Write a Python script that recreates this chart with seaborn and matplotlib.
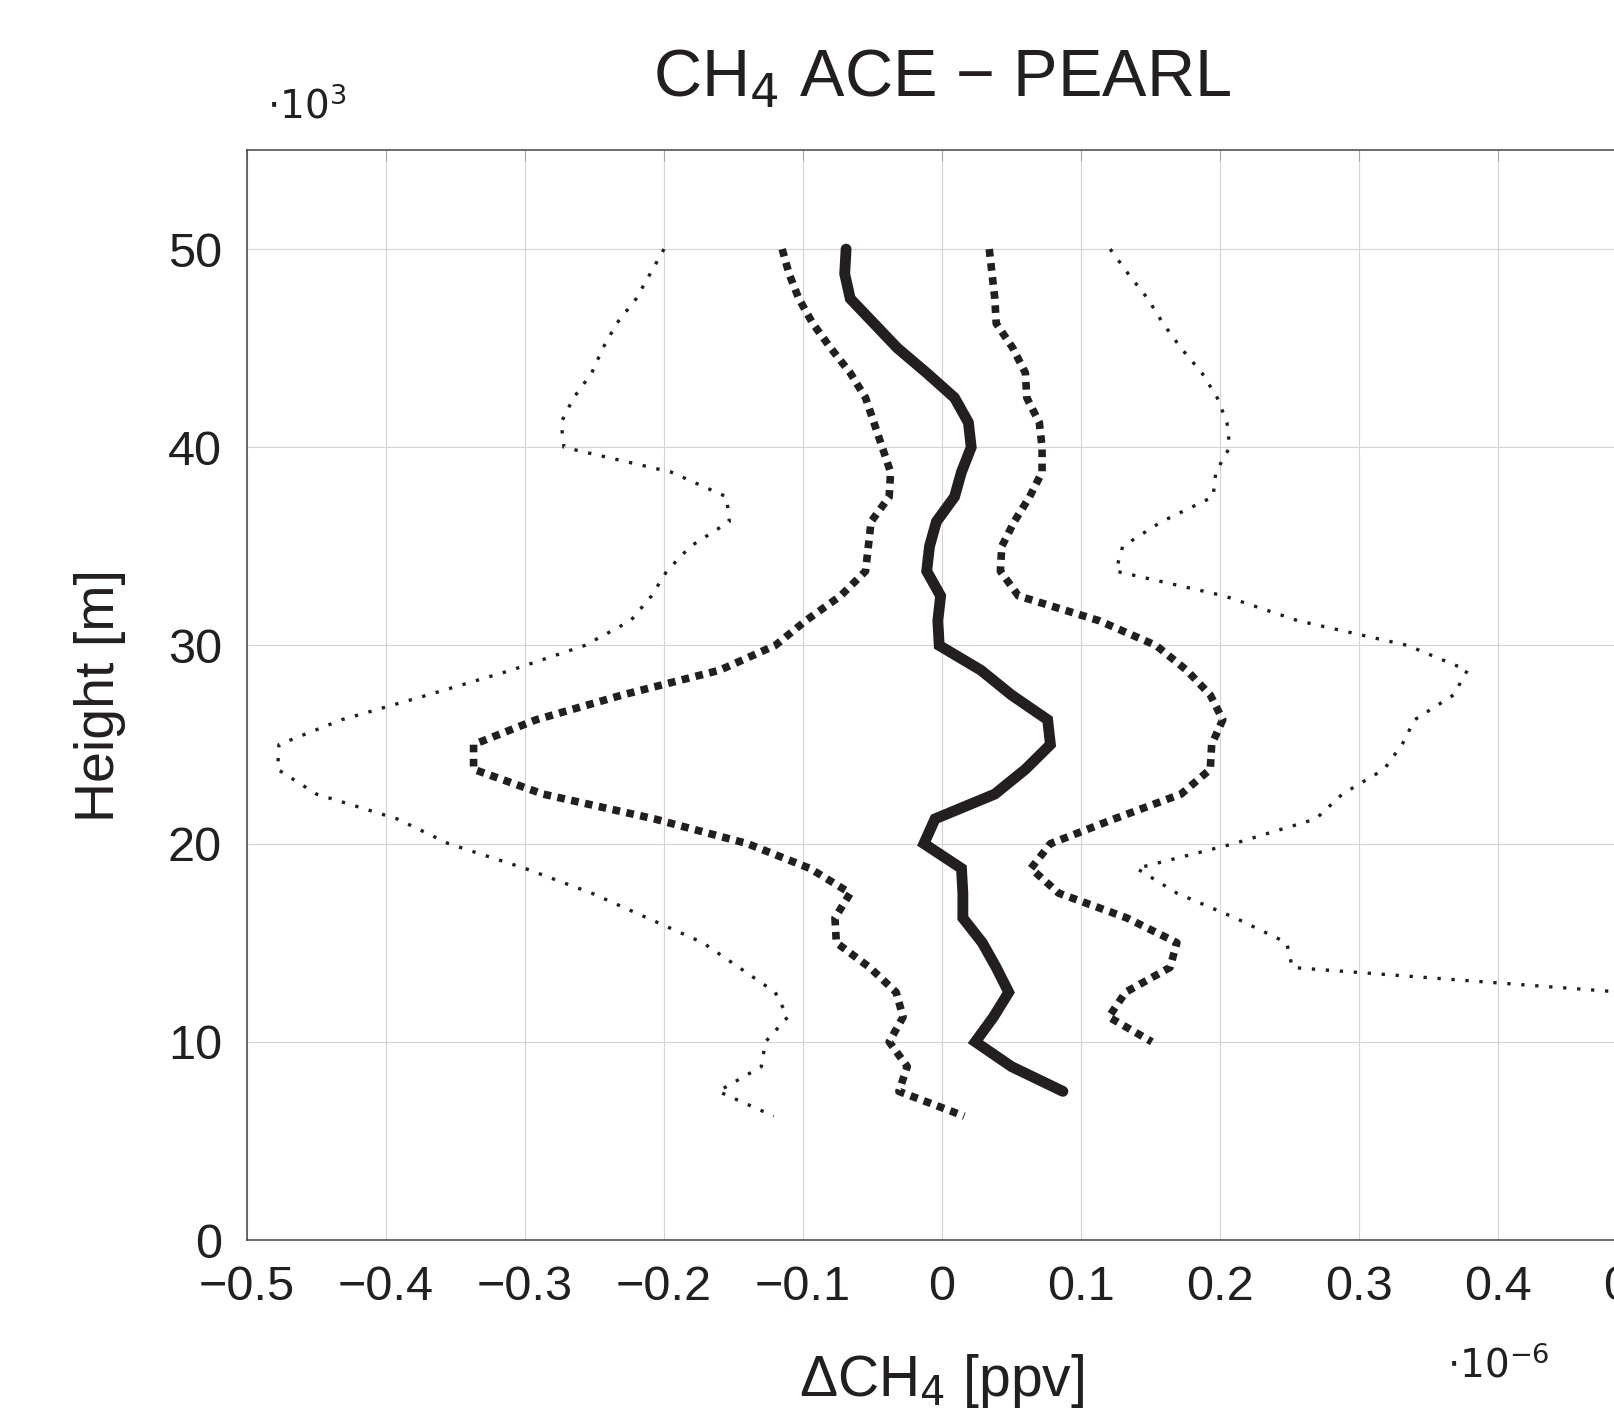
import matplotlib
matplotlib.use("Agg")
import matplotlib.pyplot as plt
import numpy as np
import seaborn as sns

# heights in km (axis shown as x10^3 m), differences in 1e-6 ppv
h_mean = [50, 48.75, 47.5, 46.25, 45, 43.75, 42.5, 41.25, 40, 38.75, 37.5, 36.25,
          35, 33.75, 32.5, 31.25, 30, 28.75, 27.5, 26.25, 25, 23.75, 22.5, 21.25,
          20, 18.75, 17.5, 16.25, 15, 13.75, 12.5, 11.25, 10, 8.75, 7.5]
d_mean = [-0.069, -0.070, -0.066, -0.049, -0.032, -0.011, 0.009, 0.019, 0.021, 0.014, 0.009, -0.004,
          -0.009, -0.011, -0.001, -0.003, -0.002, 0.028, 0.050, 0.076, 0.078, 0.060, 0.038, -0.005,
          -0.013, 0.014, 0.015, 0.015, 0.029, 0.039, 0.048, 0.037, 0.024, 0.050, 0.087]

h_lo1 = h_mean + [6.25]
d_lo1 = [-0.115, -0.110, -0.103, -0.093, -0.080, -0.066, -0.055, -0.049, -0.043, -0.037, -0.038, -0.051,
         -0.053, -0.055, -0.073, -0.098, -0.120, -0.160, -0.230, -0.292, -0.337, -0.337, -0.287, -0.207,
         -0.140, -0.095, -0.066, -0.077, -0.076, -0.052, -0.033, -0.028, -0.038, -0.025, -0.031, 0.016]

h_lo2 = h_mean + [6.25]
d_lo2 = [-0.200, -0.210, -0.220, -0.234, -0.244, -0.252, -0.265, -0.274, -0.272, -0.195, -0.155, -0.153,
         -0.181, -0.198, -0.209, -0.224, -0.257, -0.310, -0.370, -0.432, -0.477, -0.478, -0.450, -0.392,
         -0.355, -0.300, -0.252, -0.212, -0.172, -0.146, -0.120, -0.111, -0.127, -0.130, -0.161, -0.121]

h_hi1 = h_mean[:33]
d_hi1 = [0.034, 0.036, 0.038, 0.039, 0.051, 0.060, 0.061, 0.070, 0.072, 0.072, 0.063, 0.052,
         0.043, 0.042, 0.055, 0.113, 0.154, 0.176, 0.193, 0.202, 0.194, 0.193, 0.172, 0.124,
         0.078, 0.064, 0.084, 0.133, 0.169, 0.164, 0.132, 0.120, 0.151]

h_hi2 = h_mean[:31]
d_hi2 = [0.121, 0.134, 0.148, 0.159, 0.172, 0.187, 0.198, 0.205, 0.207, 0.197, 0.195, 0.158,
         0.130, 0.125, 0.203, 0.256, 0.335, 0.378, 0.368, 0.340, 0.331, 0.318, 0.288, 0.269,
         0.210, 0.140, 0.169, 0.211, 0.248, 0.252, 0.490]

x_ticks = [-0.5, -0.4, -0.3, -0.2, -0.1, 0, 0.1, 0.2, 0.3, 0.4, 0.5]
y_ticks = [0, 10, 20, 30, 40, 50]

sns.set_style("whitegrid")
plt.rcParams['font.family'] = ['Liberation Sans Narrow', 'Liberation Sans', 'DejaVu Sans']
plt.rcParams['mathtext.fontset'] = 'custom'
plt.rcParams['mathtext.rm'] = 'Liberation Sans Narrow'
plt.rcParams['mathtext.it'] = 'Liberation Sans Narrow'
plt.rcParams['axes.unicode_minus'] = True

ink = "#231f20"
fig = plt.figure(figsize=(16.15, 14.11), dpi=100)
ax = fig.add_axes([247 / 1615, 1 - 1240 / 1411, 1390 / 1615, 1090 / 1411])

sns.lineplot(x=d_lo2, y=h_lo2, sort=False, estimator=None, ax=ax, color=ink,
             linewidth=2.4, linestyle=(0, (1, 3.2)))
sns.lineplot(x=d_hi2, y=h_hi2, sort=False, estimator=None, ax=ax, color=ink,
             linewidth=2.4, linestyle=(0, (1, 3.2)))
sns.lineplot(x=d_lo1, y=h_lo1, sort=False, estimator=None, ax=ax, color=ink,
             linewidth=5.5, linestyle=(0, (1, 0.85)))
sns.lineplot(x=d_hi1, y=h_hi1, sort=False, estimator=None, ax=ax, color=ink,
             linewidth=5.5, linestyle=(0, (1, 0.85)))
sns.lineplot(x=d_mean, y=h_mean, sort=False, estimator=None, ax=ax, color=ink,
             linewidth=7.8, solid_joinstyle='miter')

ax.set_xlim(-0.5, 0.5)
ax.set_ylim(0, 55)
ax.set_xticks(x_ticks)
ax.set_yticks(y_ticks)
ax.set_xticklabels([("%g" % t).replace("-", "\u2212") for t in x_ticks])
ax.set_yticklabels([str(t) for t in y_ticks])
ax.grid(True, color="#d4d4d4", linewidth=0.8)
ax.tick_params(direction="in", length=8, width=0.8, color="#a8a8a8", labelsize=35,
               pad=18, top=True, right=True, labelcolor=ink)
for s in ax.spines.values():
    s.set_color("#454545")
    s.set_linewidth(1.1)

ax.set_title("CH$_4$ ACE \u2212 PEARL", fontsize=48, color=ink, y=1.041, va="baseline")
ax.set_xlabel("\u0394CH$_4$ [ppv]", fontsize=41, color=ink)
ax.xaxis.set_label_coords(0.5, -0.143)
ax.xaxis.label.set_verticalalignment("baseline")
ax.set_ylabel("Height [m]", fontsize=40, color=ink)
ax.yaxis.set_label_coords(-0.106, 0.5)
ax.yaxis.label.set_verticalalignment("center")

ax.text(0.043, 1.029, r"$\cdot 10^{3}$", transform=ax.transAxes, fontsize=28,
        color=ink, ha="center", va="baseline")
ax.text(0.90, -0.1266, r"$\cdot 10^{-6}$", transform=ax.transAxes, fontsize=28,
        color=ink, ha="center", va="baseline")

fig.savefig("out.png", dpi=100)
